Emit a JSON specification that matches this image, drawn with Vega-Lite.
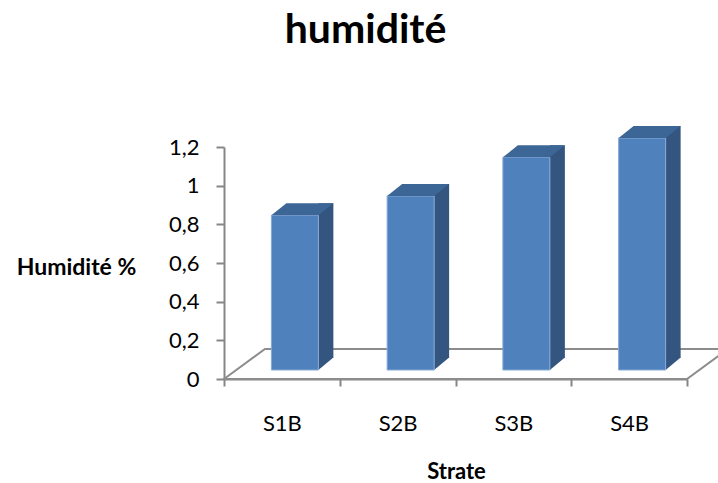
{
  "$schema": "https://vega.github.io/schema/vega-lite/v6.json",
  "width": 463,
  "height": 232,
  "autosize": {"type": "none"},
  "padding": {"left": 224, "top": 147, "right": 31, "bottom": 104},
  "background": "white",
  "title": {
    "text": "humidité",
    "font": "Lato",
    "fontSize": 41,
    "fontWeight": "bold",
    "color": "#000000",
    "anchor": "middle",
    "frame": "group",
    "offset": 0,
    "baseline": "alphabetic",
    "dx": -90,
    "dy": -42
  },
  "data": {
    "values": [
      {"strate": "S1B", "humidite": 0.8},
      {"strate": "S2B", "humidite": 0.9},
      {"strate": "S3B", "humidite": 1.1},
      {"strate": "S4B", "humidite": 1.2}
    ]
  },
  "encoding": {
    "x": {
      "field": "strate",
      "type": "nominal",
      "sort": null,
      "scale": {"paddingInner": 0, "paddingOuter": 0},
      "axis": {
        "title": "Strate",
        "titleFont": "Lato",
        "titleFontSize": 22,
        "titleFontWeight": "bold",
        "titleColor": "#000000",
        "titleAnchor": "start",
        "titleAlign": "center",
        "titleBaseline": "middle",
        "titleX": 232,
        "titleY": 92,
        "labelAngle": 0,
        "labelFont": "Lato",
        "labelFontSize": 22,
        "labelColor": "#000000",
        "labelBaseline": "middle",
        "labelPadding": 37,
        "tickBand": "extent",
        "tickSize": 7,
        "tickColor": "#868686",
        "tickWidth": 2,
        "domainColor": "#868686",
        "domainWidth": 2
      }
    },
    "y": {
      "field": "humidite",
      "type": "quantitative",
      "scale": {"domain": [0, 1.2], "nice": false},
      "axis": {
        "title": "Humidité %",
        "titleFont": "Lato",
        "titleFontSize": 23,
        "titleFontWeight": "bold",
        "titleColor": "#000000",
        "titleAngle": 0,
        "titleAlign": "center",
        "titleBaseline": "middle",
        "titleX": -148,
        "titleY": 120,
        "values": [0, 0.2, 0.4, 0.6, 0.8, 1, 1.2],
        "labelExpr": "replace(format(datum.value, '~g'), '.', ',')",
        "labelFont": "Lato",
        "labelFontSize": 22,
        "labelColor": "#000000",
        "labelPadding": 17,
        "tickSize": 8,
        "tickColor": "#868686",
        "tickWidth": 2,
        "domainColor": "#868686",
        "domainWidth": 2,
        "grid": false
      }
    }
  },
  "layer": [
    {
      "description": "floor of the 3D plot area, outlined in grey",
      "transform": [{"filter": "datum.strate === 'S1B'"}],
      "mark": {
        "type": "point",
        "shape": "M -57.9 0 L -16.9 -30 L 446.1 -30 L 405.1 0 Z",
        "size": 4,
        "filled": true,
        "fill": "#ffffff",
        "stroke": "#8c8c8c",
        "strokeWidth": 2,
        "opacity": 1
      },
      "encoding": {
        "y": {"datum": 0}
      }
    },
    {
      "description": "side face of each column",
      "mark": {
        "type": "bar",
        "width": 15,
        "xOffset": 44,
        "yOffset": -21,
        "y2Offset": -21,
        "color": "#33557f"
      },
      "encoding": {"y2": {"datum": 0}}
    },
    {
      "description": "lower corner of the side face",
      "mark": {
        "type": "point",
        "shape": "M 36.5 -9 L 36.5 -21.5 L 51.5 -21.5 Z",
        "size": 4,
        "filled": true,
        "fill": "#33557f",
        "strokeWidth": 0,
        "opacity": 1
      },
      "encoding": {"y": {"datum": 0}}
    },
    {
      "description": "front face of each column",
      "mark": {
        "type": "bar",
        "width": 47,
        "xOffset": 13,
        "yOffset": -9,
        "y2Offset": -9,
        "fill": "#4f81bd",
        "stroke": "#86a9d6",
        "strokeWidth": 1
      },
      "encoding": {"y2": {"datum": 0}}
    },
    {
      "description": "top face of each column",
      "mark": {
        "type": "point",
        "shape": "M -10.5 -9 L 36.5 -9 L 51.5 -21 L 4.5 -21 Z",
        "size": 4,
        "filled": true,
        "fill": "#3c6696",
        "strokeWidth": 0,
        "opacity": 1
      }
    }
  ],
  "config": {
    "view": {"stroke": null}
  }
}
